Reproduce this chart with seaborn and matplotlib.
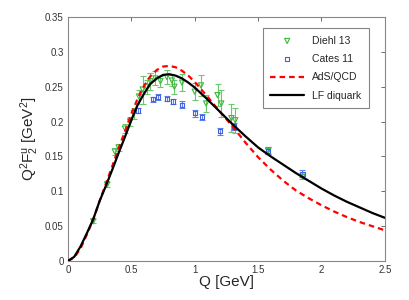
import numpy as np
import pandas as pd
import matplotlib
matplotlib.use("Agg")
import matplotlib.pyplot as plt
import seaborn as sns

# LF diquark curve (black solid)
q_curve = [0, 0.05, 0.1, 0.15, 0.2, 0.25, 0.3, 0.35, 0.4, 0.45, 0.5, 0.55, 0.6, 0.65,
           0.7, 0.75, 0.8, 0.85, 0.9, 0.95, 1.0, 1.1, 1.2, 1.3, 1.4, 1.5, 1.6, 1.7,
           1.8, 1.9, 2.0, 2.1, 2.2, 2.3, 2.4, 2.5]
lf_diquark = [0, 0.006, 0.021, 0.040, 0.060, 0.086, 0.108, 0.131, 0.155, 0.178, 0.202,
              0.224, 0.240, 0.254, 0.262, 0.267, 0.268, 0.266, 0.262, 0.256, 0.249,
              0.232, 0.214, 0.196, 0.179, 0.163, 0.150, 0.138, 0.126, 0.115, 0.104,
              0.094, 0.085, 0.077, 0.069, 0.062]
# AdS/QCD curve (red dashed)
ads_qcd = [0, 0.005, 0.018, 0.038, 0.060, 0.086, 0.111, 0.136, 0.162, 0.186, 0.211,
           0.233, 0.251, 0.265, 0.274, 0.279, 0.280, 0.278, 0.273, 0.266, 0.257,
           0.236, 0.214, 0.193, 0.170, 0.149, 0.131, 0.115, 0.101, 0.090, 0.080,
           0.071, 0.063, 0.056, 0.050, 0.044]

# Diehl 13 data
diehl_q = [0.20, 0.31, 0.37, 0.40, 0.45, 0.49, 0.52, 0.56, 0.59, 0.62, 0.65, 0.69, 0.73,
           0.78, 0.82, 0.84, 0.90, 1.00, 1.05, 1.09, 1.18, 1.21, 1.29, 1.32, 1.58, 1.85]
diehl_f = [0.057, 0.110, 0.157, 0.163, 0.190, 0.200, 0.212, 0.236, 0.246, 0.250, 0.258,
           0.262, 0.258, 0.264, 0.259, 0.250, 0.256, 0.243, 0.252, 0.226, 0.238, 0.226,
           0.205, 0.202, 0.158, 0.121]
diehl_err = [0.003, 0.004, 0.005, 0.005, 0.006, 0.006, 0.008, 0.010, 0.020, 0.010, 0.012,
             0.010, 0.008, 0.010, 0.008, 0.010, 0.012, 0.012, 0.015, 0.012, 0.016, 0.020,
             0.020, 0.018, 0.005, 0.004]

# Cates 11 data
cates_q = [0.55, 0.67, 0.71, 0.78, 0.83, 0.90, 1.00, 1.06, 1.20, 1.31, 1.58, 1.85]
cates_f = [0.216, 0.232, 0.235, 0.233, 0.229, 0.224, 0.212, 0.207, 0.186, 0.193, 0.158, 0.125]
cates_err = [0.004, 0.004, 0.004, 0.004, 0.004, 0.005, 0.005, 0.004, 0.005, 0.005, 0.005, 0.005]

x_ticks = [0, 0.5, 1, 1.5, 2, 2.5]
x_ticklabels = ["0", "0.5", "1", "1.5", "2", "2.5"]
y_ticks = [0, 0.05, 0.1, 0.15, 0.2, 0.25, 0.3, 0.35]
y_ticklabels = ["0", "0.05", "0.1", "0.15", "0.2", "0.25", "0.3", "0.35"]

sns.set_style("white")
plt.rcParams["font.family"] = ["Liberation Sans", "DejaVu Sans"]
plt.rcParams["mathtext.fontset"] = "custom"
plt.rcParams["mathtext.rm"] = "Liberation Sans"
plt.rcParams["mathtext.it"] = "Liberation Sans"

fig = plt.figure(figsize=(4.09, 3.0), dpi=100)
ax = fig.add_axes([0.166, 0.13, 0.775, 0.813])

green = "#3cb83c"
blue = "#4060e0"

# error bars
ax.errorbar(diehl_q, diehl_f, yerr=diehl_err, fmt="none", ecolor="#6cc86c",
            elinewidth=0.8, capsize=2, capthick=0.8, zorder=2)
ax.errorbar(cates_q, cates_f, yerr=cates_err, fmt="none", ecolor="#6080e8",
            elinewidth=0.8, capsize=2, capthick=0.8, zorder=2)

df_d = pd.DataFrame({"Q": diehl_q, "F": diehl_f})
df_c = pd.DataFrame({"Q": cates_q, "F": cates_f})
sns.scatterplot(data=df_d, x="Q", y="F", marker="v", s=14, facecolors="none",
                edgecolor=green, linewidth=0.8, ax=ax, label="Diehl 13", zorder=3)
sns.scatterplot(data=df_c, x="Q", y="F", marker="s", s=9, facecolors="none",
                edgecolor=blue, linewidth=0.8, ax=ax, label="Cates 11", zorder=3)

df_curve = pd.DataFrame({"Q": q_curve, "ads": ads_qcd, "lf": lf_diquark})
sns.lineplot(data=df_curve, x="Q", y="ads", color="red", linestyle=(0, (2.5, 1.8)),
             linewidth=1.6, ax=ax, label="AdS/QCD", zorder=4)
sns.lineplot(data=df_curve, x="Q", y="lf", color="black", linewidth=1.6, ax=ax,
             label="LF diquark", zorder=5)

ax.set_xlim(0, 2.5)
ax.set_ylim(0, 0.35)
ax.set_xticks(x_ticks)
ax.set_xticklabels(x_ticklabels)
ax.set_yticks(y_ticks)
ax.set_yticklabels(y_ticklabels)
ax.tick_params(direction="in", length=3, width=0.6, labelsize=7, top=True, right=True,
               color="#555555", labelcolor="#333333", pad=3)
for s in ax.spines.values():
    s.set_color("#888888")
    s.set_linewidth(0.8)

ax.set_xlabel("Q [GeV]", fontsize=11, labelpad=0)
ax.set_ylabel(r"Q$^{\mathregular{2}}$F$_{\mathregular{2}}^{\mathregular{u}}$ [GeV$^{\mathregular{2}}$]",
              fontsize=11, labelpad=3)

leg = ax.legend(loc="upper right", fontsize=7.5, frameon=True, fancybox=False,
                edgecolor="#666666", borderpad=0.7, labelspacing=0.8, handlelength=3.2,
                bbox_to_anchor=(0.965, 0.975))
leg.get_frame().set_linewidth(0.8)

fig.savefig("out.png", dpi=100)
